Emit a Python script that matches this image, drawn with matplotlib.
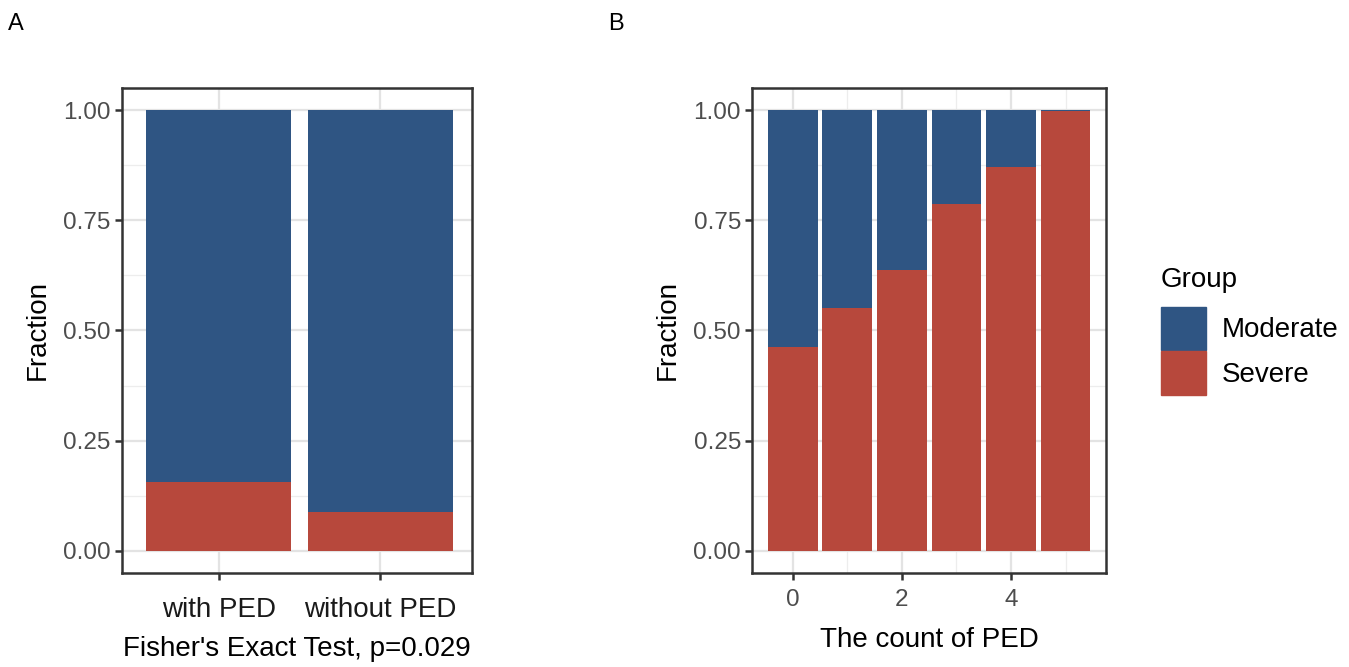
import numpy as np
import matplotlib.pyplot as plt
from matplotlib.patches import Patch

plt.rcParams['font.family'] = ['Liberation Sans', 'DejaVu Sans']

# panel A data
ped_groups = ["with PED", "without PED"]
ped_severe = [0.157, 0.088]

# panel B data
ped_count = [0, 1, 2, 3, 4, 5]
count_severe = [0.462, 0.552, 0.637, 0.787, 0.872, 0.997]

blue = "#2F5583"
red = "#B7483C"
tick_col = "#4D4D4D"

fig = plt.figure(figsize=(13.49, 6.67), dpi=100)
axA = fig.add_axes([0.0904, 0.141, 0.2596, 0.727])
axB = fig.add_axes([0.5575, 0.141, 0.2625, 0.727])


def style(ax):
    ax.set_ylim(-0.05, 1.05)
    ax.set_yticks([0, 0.25, 0.5, 0.75, 1.0])
    ax.set_yticklabels(["0.00", "0.25", "0.50", "0.75", "1.00"])
    ax.set_yticks([0.125, 0.375, 0.625, 0.875], minor=True)
    ax.grid(True, which='major', color='#E3E3E3', lw=1.6, zorder=0)
    ax.grid(True, which='minor', color='#EDEDED', lw=0.9, zorder=0)
    ax.set_axisbelow(True)
    for s in ax.spines.values():
        s.set_color('#333333')
        s.set_linewidth(1.8)
    ax.tick_params(which='major', length=5, width=1.8, color='#333333',
                   labelsize=17.5, labelcolor=tick_col, pad=3)
    ax.tick_params(which='minor', length=0)
    ax.set_ylabel("Fraction", fontsize=20, labelpad=9)


# panel A
xA = np.arange(1, len(ped_groups) + 1)
sevA = np.array(ped_severe)
axA.bar(xA, sevA, width=0.9, color=red, zorder=2)
axA.bar(xA, 1 - sevA, bottom=sevA, width=0.9, color=blue, zorder=2)
style(axA)
axA.set_xlim(0.4, 2.57)
axA.set_xticks(xA)
axA.set_xticklabels(ped_groups)
axA.tick_params(axis='x', which='major', pad=12.5, labelsize=20,
                labelcolor='#1A1A1A')
axA.set_xlabel("Fisher's Exact Test, p=0.029", fontsize=20, labelpad=9.5)

# panel B
xB = np.array(ped_count)
sevB = np.array(count_severe)
axB.bar(xB, sevB, width=0.91, color=red, zorder=2)
axB.bar(xB, 1 - sevB, bottom=sevB, width=0.91, color=blue, zorder=2)
style(axB)
axB.set_xlim(-0.745, 5.745)
axB.set_xticks([0, 2, 4])
axB.set_xticks([1, 3, 5], minor=True)
axB.tick_params(axis='x', which='major', pad=6.3)
axB.set_xlabel("The count of PED", fontsize=20, labelpad=11.5)

handles = [Patch(color=blue, label="Moderate"), Patch(color=red, label="Severe")]
leg = fig.legend(handles=handles, title="Group", loc='upper left',
                 bbox_to_anchor=(0.8605, 0.6), frameon=False, fontsize=20,
                 title_fontsize=20, handlelength=1.62, handleheight=2.02,
                 handletextpad=0.58, labelspacing=0.05, borderpad=0,
                 borderaxespad=0)
leg._legend_box.align = "left"
leg._legend_box.sep = 10

fig.text(0.006, 0.955, "A", fontsize=17)
fig.text(0.451, 0.955, "B", fontsize=17)

plt.savefig("out.png", dpi=100)
